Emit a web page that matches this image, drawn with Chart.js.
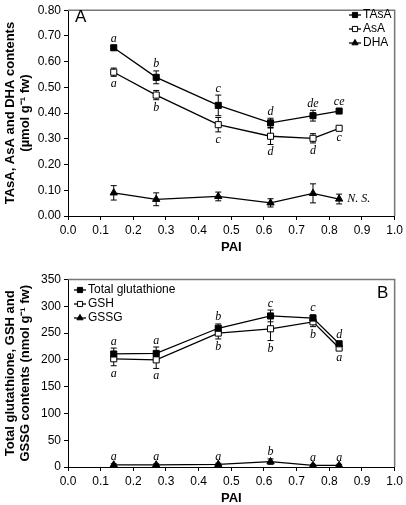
<!DOCTYPE html>
<html>
<head>
<meta charset="utf-8">
<script src="https://cdn.jsdelivr.net/npm/chart.js@4.4.0/dist/chart.umd.min.js"></script>
<style>
  body { margin: 0; background: #fff; }
  .panel { position: absolute; left: 0; width: 406px; }
  #wrapA { top: 0; height: 254px; }
  #wrapB { top: 254px; height: 251px; }
</style>
</head>
<body>
<div class="panel" id="wrapA"><canvas id="chartA" width="406" height="254"></canvas></div>
<div class="panel" id="wrapB"><canvas id="chartB" width="406" height="251"></canvas></div>
<script>
// PAI of the six sampling points
const pai = [0.14, 0.27, 0.46, 0.62, 0.75, 0.83];
const xTickValues = [0, 0.1, 0.2, 0.3, 0.4, 0.5, 0.6, 0.7, 0.8, 0.9, 1.0];

// panel A (µmol g-1 fw)
const yTicksA = [0, 0.1, 0.2, 0.3, 0.4, 0.5, 0.6, 0.7, 0.8];
const tasa = [0.654, 0.539, 0.430, 0.362, 0.390, 0.408];
const tasaErr = [0.008, 0.025, 0.040, 0.018, 0.021, 0.008];
const tasaLetters = ['a', 'b', 'c', 'd', 'de', 'ce'];
const asa = [0.559, 0.470, 0.355, 0.310, 0.302, 0.341];
const asaErr = [0.016, 0.018, 0.028, 0.032, 0.018, 0.008];
const asaLetters = ['a', 'b', 'c', 'd', 'd', 'c'];
const dha = [0.090, 0.065, 0.076, 0.051, 0.088, 0.066];
const dhaErr = [0.028, 0.025, 0.017, 0.016, 0.037, 0.019];

// panel B (nmol g-1 fw)
const yTicksB = [0, 50, 100, 150, 200, 250, 300, 350];
const totalGlu = [211, 212, 259, 282, 278, 230];
const totalGluErr = [11, 12, 8, 11, 6, 4];
const totalGluLetters = ['a', 'a', 'b', 'c', 'c', 'd'];
const gsh = [202, 200, 250, 258, 271, 222];
const gshErr = [13, 16, 11, 22, 9, 4];
const gshLetters = ['a', 'a', 'b', 'b', 'b', 'a'];
const gssg = [4, 4, 5, 10, 3, 3];
const gssgErr = [2, 2, 2, 5, 2, 2];
const gssgLetters = ['a', 'a', 'a', 'b', 'a', 'a'];

const sans = '"Liberation Sans", Arial, sans-serif';
const serif = '"Liberation Serif", "Times New Roman", serif';
Chart.defaults.font.family = sans;
Chart.defaults.color = '#000';

function series(label, values, errs, style, letters, side, note) {
  return {
    label: label,
    data: values.map((v, i) => ({ x: pai[i], y: v })),
    errors: errs,
    letters: letters,
    letterSide: side,
    note: note,
    borderColor: '#000',
    borderWidth: 1.3,
    pointStyle: style.shape,
    pointRadius: style.radius,
    pointBackgroundColor: style.fill,
    pointBorderColor: '#000',
    pointBorderWidth: 1,
    tension: 0,
    fill: false
  };
}

const filledSq = { shape: 'rect', radius: 4.3, fill: '#000' };
const openSq = { shape: 'rect', radius: 4.3, fill: '#fff' };
const tri = { shape: 'triangle', radius: 4.2, fill: '#000' };

const panelDecor = {
  id: 'panelDecor',
  beforeDatasetsDraw(chart) {
    const ctx = chart.ctx, xs = chart.scales.x, ys = chart.scales.y;
    ctx.save();
    ctx.strokeStyle = '#000';
    ctx.lineWidth = 1;
    chart.data.datasets.forEach(ds => {
      ds.data.forEach((p, i) => {
        const e = ds.errors[i];
        const x = xs.getPixelForValue(p.x);
        const y1 = ys.getPixelForValue(p.y + e);
        const y2 = ys.getPixelForValue(p.y - e);
        ctx.beginPath();
        ctx.moveTo(x, y1); ctx.lineTo(x, y2);
        ctx.moveTo(x - 3, y1); ctx.lineTo(x + 3, y1);
        ctx.moveTo(x - 3, y2); ctx.lineTo(x + 3, y2);
        ctx.stroke();
      });
    });
    ctx.restore();
  },
  afterDatasetsDraw(chart) {
    const ctx = chart.ctx, xs = chart.scales.x, ys = chart.scales.y;
    ctx.save();
    ctx.fillStyle = '#000';
    ctx.font = 'italic 12px ' + serif;
    ctx.textAlign = 'center';
    ctx.textBaseline = 'alphabetic';
    chart.data.datasets.forEach(ds => {
      if (ds.letters) {
        ds.data.forEach((p, i) => {
          const x = xs.getPixelForValue(p.x);
          if (ds.letterSide === 'above') {
            ctx.fillText(ds.letters[i], x, ys.getPixelForValue(p.y + ds.errors[i]) - 3.5);
          } else {
            ctx.fillText(ds.letters[i], x, ys.getPixelForValue(p.y - ds.errors[i]) + 11);
          }
        });
      }
      if (ds.note) {
        const last = ds.data[ds.data.length - 1];
        ctx.textAlign = 'left';
        ctx.textBaseline = 'middle';
        ctx.fillText(ds.note, xs.getPixelForValue(last.x) + 8, ys.getPixelForValue(last.y));
      }
    });
    ctx.restore();
  },
  afterDraw(chart, args, opts) {
    const ctx = chart.ctx, a = chart.chartArea;
    ctx.save();
    // grey top and right frame
    ctx.strokeStyle = '#777';
    ctx.lineWidth = 1.5;
    ctx.beginPath();
    ctx.moveTo(a.left, a.top);
    ctx.lineTo(a.right, a.top);
    ctx.lineTo(a.right, a.bottom);
    ctx.stroke();
    // panel letter
    ctx.fillStyle = '#000';
    ctx.font = '17px ' + sans;
    ctx.textBaseline = 'middle';
    ctx.textAlign = 'left';
    ctx.fillText(opts.panel, opts.panelX, opts.panelY);
    // legend
    ctx.font = '12px ' + sans;
    chart.data.datasets.forEach((ds, i) => {
      const y = opts.legendY + i * opts.legendGap;
      const x = opts.legendX;
      ctx.strokeStyle = '#000';
      ctx.lineWidth = 1.3;
      ctx.beginPath();
      ctx.moveTo(x - 6, y); ctx.lineTo(x + 6, y);
      ctx.stroke();
      ctx.fillStyle = ds.pointBackgroundColor;
      ctx.strokeStyle = '#000';
      ctx.lineWidth = 1;
      Chart.helpers.drawPoint(ctx, { pointStyle: ds.pointStyle, radius: ds.pointRadius * 0.85, rotation: 0, borderWidth: 1 }, x, y);
      ctx.fillStyle = '#000';
      ctx.fillText(ds.label, x + 8, y);
    });
    ctx.restore();
  }
};

function makeChart(id, datasets, yMax, yTicks, yDigits, yTitle, decor) {
  return new Chart(document.getElementById(id), {
    type: 'line',
    data: { datasets: datasets },
    options: {
      responsive: false,
      animation: false,
      layout: { padding: decor.padding },
      plugins: { legend: { display: false }, tooltip: { enabled: false }, panelDecor: decor },
      scales: {
        x: {
          type: 'linear', min: 0, max: 1,
          afterBuildTicks: s => { s.ticks = xTickValues.map(v => ({ value: v })); },
          ticks: { callback: v => v.toFixed(1), font: { size: 12 }, color: '#000', padding: 3, maxRotation: 0, autoSkip: false },
          grid: { drawOnChartArea: false, drawTicks: true, tickLength: 4, color: '#000' },
          border: { color: '#000', width: 1 },
          title: { display: true, text: 'PAI', color: '#000', font: { size: 13, weight: 'bold', lineHeight: 1 }, padding: { top: 0, bottom: 0.5 } },
          afterFit: s => { s.height = 38; }
        },
        y: {
          type: 'linear', min: 0, max: yMax,
          afterBuildTicks: s => { s.ticks = yTicks.map(v => ({ value: v })); },
          ticks: { callback: v => v.toFixed(yDigits), font: { size: 12 }, color: '#000', padding: 3, autoSkip: false },
          grid: { drawOnChartArea: false, drawTicks: true, tickLength: 4, color: '#000' },
          border: { color: '#000', width: 1 },
          title: { display: true, text: yTitle, color: '#000', font: { size: 13, weight: 'bold', lineHeight: 1.15 }, padding: { top: 2.5, bottom: 0 } },
          afterFit: s => { s.width = 68; }
        }
      }
    },
    plugins: [panelDecor]
  });
}

makeChart('chartA', [
  series('TAsA', tasa, tasaErr, filledSq, tasaLetters, 'above'),
  series('AsA', asa, asaErr, openSq, asaLetters, 'below'),
  series('DHA', dha, dhaErr, tri, null, null, 'N. S.')
], 0.8, yTicksA, 2, ['TAsA, AsA and DHA contents', '(\u00b5mol g\u207b\u00b9 fw)'], {
  panel: 'A', panelX: 75, panelY: 17,
  legendX: 355, legendY: 15, legendGap: 14,
  padding: { top: 5, right: 9, left: 0, bottom: 0 }
});

makeChart('chartB', [
  series('Total glutathione', totalGlu, totalGluErr, filledSq, totalGluLetters, 'above'),
  series('GSH', gsh, gshErr, openSq, gshLetters, 'below'),
  series('GSSG', gssg, gssgErr, tri, gssgLetters, 'above')
], 350, yTicksB, 0, ['Total glutathione, GSH and', 'GSSG contents (nmol g\u207b\u00b9 fw)'], {
  panel: 'B', panelX: 377, panelY: 39,
  legendX: 80, legendY: 36, legendGap: 14,
  padding: { top: 25.5, right: 9, left: 0, bottom: 0 }
});
</script>
</body>
</html>
